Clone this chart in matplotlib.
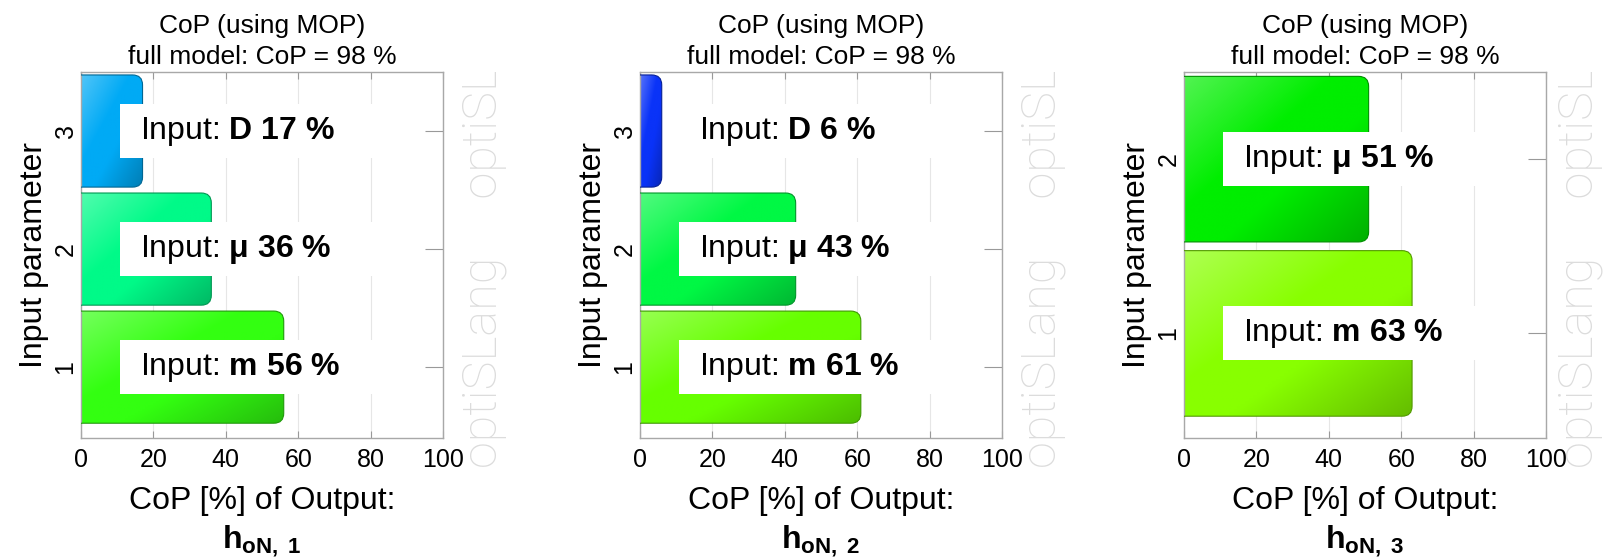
import numpy as np
import matplotlib
matplotlib.use("Agg")
import matplotlib.pyplot as plt
from matplotlib.patches import FancyBboxPatch, Rectangle
from matplotlib.colors import to_rgb
from matplotlib.transforms import Bbox, TransformedBbox

plt.rcParams['font.family'] = ['Liberation Sans', 'DejaVu Sans']
plt.rcParams['mathtext.fontset'] = 'custom'
plt.rcParams['mathtext.rm'] = 'Liberation Sans'
plt.rcParams['mathtext.bf'] = 'Liberation Sans:bold'
plt.rcParams['mathtext.it'] = 'Liberation Sans:italic'

# ---------------- data ----------------
output_ids = ['1', '2', '3']
full_model_cop = [98, 98, 98]
panel_inputs = [['m', 'μ', 'D'], ['m', 'μ', 'D'], ['m', 'μ']]
panel_values = [[56, 36, 17], [61, 43, 6], [63, 51]]
panel_colors = [['#33ff11', '#00fa88', '#00aaf5'],
                ['#66ff00', '#00f844', '#0a33f8'],
                ['#88ff00', '#00ee00']]
xticks = [0, 20, 40, 60, 80, 100]

# ---------------- layout ----------------
W, H = 1603, 559
fig = plt.figure(figsize=(W / 100, H / 100), dpi=100)
ax_px = [(81, 72, 362, 366), (640, 72, 362, 366), (1184, 72, 362, 366)]
wm_gap = [19, 19, 12]


def gradient(base, nx=200, ny=60):
    b = np.array(to_rgb(base))
    light = b + (1 - b) * 0.32
    dark = b * 0.74
    u = np.linspace(0, 1, nx)[None, :]
    v = np.linspace(0, 1, ny)[:, None]
    t = (u + v) / 2
    s1 = np.clip(t / 0.4, 0, 1)[..., None]
    s2 = np.clip((t - 0.6) / 0.4, 0, 1)[..., None]
    first = light * (1 - s1) + b * s1
    second = b * (1 - s2) + dark * s2
    return np.where((t < 0.5)[..., None], first, second)


for i in range(3):
    l, t, w, h = ax_px[i]
    ax = fig.add_axes([l / W, 1 - (t + h) / H, w / W, h / H])
    vals = panel_values[i]
    names = panel_inputs[i]
    cols = panel_colors[i]
    n = len(vals)
    ylim = (0.4, n + 0.5)
    px_x = w / 100.0
    px_y = h / (ylim[1] - ylim[0])
    bh = 0.95
    r_px = 10
    rs = r_px / px_x
    for k, (v, c, nm) in enumerate(zip(vals, cols, names)):
        y = k + 1
        dark = np.array(to_rgb(c)) * 0.6
        patch = FancyBboxPatch((-3 * rs, y - bh / 2), v + 3 * rs, bh,
                               boxstyle=f"round,pad=0,rounding_size={rs}",
                               mutation_aspect=px_x / px_y,
                               facecolor='none', edgecolor=dark, lw=0.8, zorder=3)
        ax.add_patch(patch)
        im = ax.imshow(gradient(c), extent=(0, v, y - bh / 2, y + bh / 2),
                       origin='upper', aspect='auto', interpolation='bilinear', zorder=2)
        im.set_clip_path(patch)
        bx_h = 54 / px_y
        ax.add_patch(Rectangle((10.7, y - bx_h / 2), 81.3, bx_h, facecolor='white',
                               edgecolor='none', zorder=4))
        ax.text(16.3, y, f"Input: $\\mathbf{{{nm}\\ {v}\\ \\%}}$", fontsize=23,
                va='center', ha='left', zorder=5)

    ax.set_xlim(0, 100)
    ax.set_ylim(*ylim)
    ax.set_xticks(xticks)
    ax.set_xticklabels([str(x) for x in xticks])
    ax.set_yticks(range(1, n + 1))
    ax.set_yticklabels([str(k) for k in range(1, n + 1)], rotation=90, va='center')
    ax.grid(axis='x', color='#e6e6e6', lw=0.8, zorder=0)
    ax.set_axisbelow(True)
    ax.tick_params(axis='x', direction='in', length=5, color='#999999', top=True,
                   labelsize=18, pad=7)
    ax.tick_params(axis='y', direction='in', length=13, color='#999999', right=True,
                   labelsize=18, pad=2.5)
    for sp in ax.spines.values():
        sp.set_color('#a8a8a8')
        sp.set_linewidth(1.0)
    ax.set_title(f"CoP (using MOP)\nfull model: CoP = {full_model_cop[i]} %",
                 fontsize=19, pad=6, linespacing=1.35)
    ax.set_xlabel(f"CoP [%] of Output:\n$\\mathbf{{h_{{oN,\\ {output_ids[i]}}}}}$",
                  fontsize=23, labelpad=10, linespacing=1.3)
    ax.set_ylabel("Input parameter", fontsize=23, labelpad=3)

    # watermark
    fs = 35
    cap = 0.711 * fs * 100 / 72
    bx = l + w + wm_gap[i] + cap
    wm = fig.text(bx / W, 1 - 468 / H, "optiSLang     optiSLang", rotation=90,
                  rotation_mode='anchor', ha='left', va='baseline', fontsize=fs,
                  color='#dcdcdc', family=['Roboto', 'Liberation Sans'],
                  fontweight='light', zorder=-1)
    clip = TransformedBbox(Bbox([[0, 0], [1, 1 - 72 / H]]), fig.transFigure)
    wm.set_clip_box(clip)
    wm.set_clip_on(True)

fig.savefig("out.png", dpi=100)
